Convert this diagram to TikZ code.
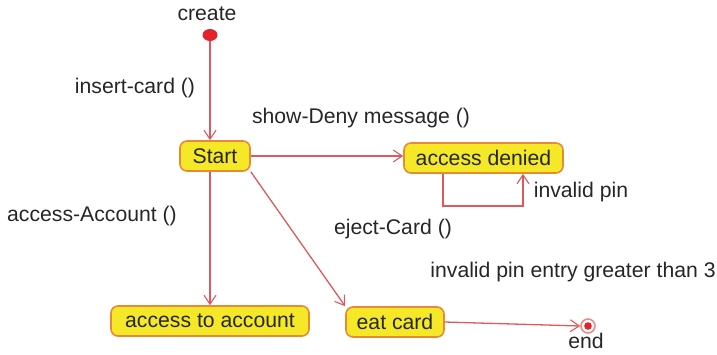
\documentclass[tikz,border=0pt]{standalone}
\usepackage{fontspec}
\setmainfont{Liberation Sans}
\usetikzlibrary{arrows.meta,shapes.geometric}
\definecolor{boxfill}{HTML}{F4E827}
\definecolor{boxline}{HTML}{E8893A}
\definecolor{wire}{HTML}{DC5A5E}
\definecolor{dotred}{HTML}{E3232B}
\begin{document}
\begin{tikzpicture}[x=1bp,y=-1bp,
  every node/.style={font=\fontsize{21.2bp}{24bp}\selectfont, text=black!85},
  state/.style={draw=boxline, line width=1.6bp, fill=boxfill, rounded corners=7bp,
    inner sep=0pt, minimum height=30bp},
  flow/.style={draw=wire, line width=1.3bp, -{Straight Barb[length=9bp,width=12bp,line width=1.1bp]}},
  lbl/.style={inner sep=0pt}]
\useasboundingbox (0,0) rectangle (717,354);
% states
\node[state, minimum width=70bp] (start) at (215,156) {Start};
\node[state, minimum width=159bp] (denied) at (483.5,158) {access denied};
\node[state, minimum width=198bp] (account) at (210,321) {access to account};
\node[state, minimum width=98bp] (eat) at (395,322) {eat card};
% initial and final pseudo-states
\node[draw=none, fill=dotred, ellipse, minimum width=15bp, minimum height=12bp, inner sep=0pt] (init) at (210,35) {};
\node[draw=wire!70, line width=1.6bp, circle, minimum size=14bp, inner sep=0pt, fill=white] (fin) at (588,326) {};
\fill[dotred] (fin.center) circle (3.8bp);
\coordinate (loopa) at (443,206);
\coordinate (loopb) at (523,206);
% transitions
\draw[flow] (init) -- (start.north -| init);
\draw[flow] (start.east) -- (denied.west |- start.east);
\draw[flow] (start.south -| account.north) -- (account.north);
\draw[flow] (start.south east) -- (eat.north west);
\draw[flow] (eat.east) -- (fin.west);
\draw[flow] (denied.south -| loopa) -- (loopa) -- (loopb) -- (denied.south -| loopb);
% labels
\node[lbl] (tcreate) at (207,14) {create};
\node[lbl] (tend) at (586,341) {end};
\node[lbl] (tinsert) at (135,88) {insert-card ()};
\node[lbl] (tdeny) at (361,118) {show-Deny message ()};
\node[lbl] (tacc) at (92,216) {access-Account ()};
\node[lbl] (teject) at (393,229) {eject-Card ()};
\node[lbl] (tinv) at (581,192) {invalid pin};
\node[lbl] (tgreater) at (573,272) {invalid pin entry greater than 3};
\end{tikzpicture}
\end{document}
